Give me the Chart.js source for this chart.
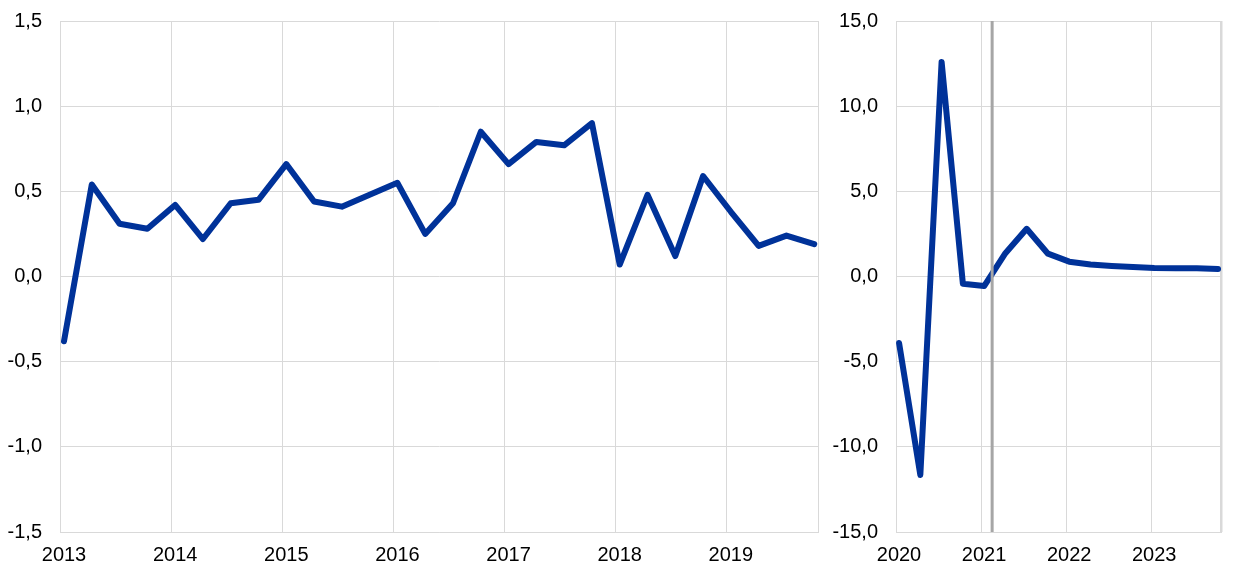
<!DOCTYPE html>
<html>
<head>
<meta charset="utf-8">
<script src="https://cdn.jsdelivr.net/npm/chart.js@4/dist/chart.umd.min.js"></script>
<style>
  html, body { margin: 0; padding: 0; background: #fff; }
  #wrap { position: relative; width: 1240px; height: 577px; }
  .box { position: absolute; top: 0; height: 577px; }
</style>
</head>
<body>
<div id="wrap">
  <div class="box" style="left:0;width:830px"><canvas id="leftChart"></canvas></div>
  <div class="box" style="left:830px;width:410px"><canvas id="rightChart"></canvas></div>
</div>
<script>
// quarterly data, left panel 2013-2019
const leftQuarters = [
  '2013Q1','2013Q2','2013Q3','2013Q4','2014Q1','2014Q2','2014Q3','2014Q4',
  '2015Q1','2015Q2','2015Q3','2015Q4','2016Q1','2016Q2','2016Q3','2016Q4',
  '2017Q1','2017Q2','2017Q3','2017Q4','2018Q1','2018Q2','2018Q3','2018Q4',
  '2019Q1','2019Q2','2019Q3','2019Q4'
];
const leftValues = [
  -0.38, 0.54, 0.31, 0.28, 0.42, 0.22, 0.43, 0.45,
  0.66, 0.44, 0.41, 0.48, 0.55, 0.25, 0.43, 0.85,
  0.66, 0.79, 0.77, 0.90, 0.07, 0.48, 0.12, 0.59,
  0.38, 0.18, 0.24, 0.19
];
const leftYearTicks = [2013, 2014, 2015, 2016, 2017, 2018, 2019];
const leftYTicks = [-1.5, -1.0, -0.5, 0.0, 0.5, 1.0, 1.5];

// right panel 2020-2023
const rightQuarters = [
  '2020Q1','2020Q2','2020Q3','2020Q4','2021Q1','2021Q2','2021Q3','2021Q4',
  '2022Q1','2022Q2','2022Q3','2022Q4','2023Q1','2023Q2','2023Q3','2023Q4'
];
const rightValues = [
  -3.9, -11.65, 12.6, -0.42, -0.56, 1.37, 2.8, 1.34,
  0.87, 0.70, 0.62, 0.56, 0.50, 0.49, 0.48, 0.44
];
const rightYearTicks = [2020, 2021, 2022, 2023];
const rightYTicks = [-15, -10, -5, 0, 5, 10, 15];
const projectionStart = 2021.13; // grey vertical line

const blue = '#003299';
const gridGrey = '#d9d9d9';
const fontSpec = { family: 'Liberation Sans, Arial, sans-serif', size: 20 };
const offset = 0.036; // points sit slightly right of year lines

function toX(q) {
  return parseInt(q.slice(0, 4)) + (parseInt(q.slice(5)) - 1) * 0.25 + offset;
}
function comma(v) { return v.toFixed(1).replace('.', ','); }

const vLine = {
  id: 'vLine',
  afterDatasetsDraw(chart, args, opts) {
    if (opts.value == null) return;
    const x = chart.scales.x.getPixelForValue(opts.value);
    const ctx = chart.ctx;
    ctx.save();
    ctx.strokeStyle = '#a6a6a6';
    ctx.lineWidth = 3;
    ctx.beginPath();
    ctx.moveTo(x, chart.chartArea.top);
    ctx.lineTo(x, chart.chartArea.bottom);
    ctx.stroke();
    ctx.restore();
  }
};

function makeChart(id, quarters, values, years, yTicks, yWidth, padRight, labelOff, lineAt) {
  const xMin = years[0];
  const xMax = years[years.length - 1] + 0.82;
  new Chart(document.getElementById(id), {
    type: 'line',
    data: {
      datasets: [{
        data: quarters.map((q, i) => ({ x: toX(q), y: values[i] })),
        borderColor: blue,
        borderWidth: 6,
        borderJoinStyle: 'round',
        borderCapStyle: 'round',
        pointRadius: 0,
        tension: 0
      }]
    },
    options: {
      responsive: true,
      maintainAspectRatio: false,
      animation: false,
      layout: { padding: { top: 21, right: padRight, bottom: 0, left: 0 } },
      plugins: { legend: { display: false }, tooltip: { enabled: false }, vLine: { value: lineAt } },
      scales: {
        x: {
          type: 'linear',
          min: xMin,
          max: xMax,
          afterBuildTicks: (s) => { s.ticks = years.map(v => ({ value: v })).concat([{ value: xMax }]); },
          afterFit: (s) => { s.height = 45; s.paddingLeft = 0; s.paddingRight = 0; },
          grid: {
            color: gridGrey,
            lineWidth: (c) => (c.tick && c.tick.value === xMax && lineAt != null) ? 2.5 : 1,
            drawTicks: false
          },
          border: { color: gridGrey },
          ticks: {
            font: fontSpec,
            color: '#000',
            padding: 11,
            labelOffset: labelOff,
            maxRotation: 0,
            autoSkip: false,
            callback: (v) => Number.isInteger(v) ? String(v) : ''
          }
        },
        y: {
          min: yTicks[0],
          max: yTicks[yTicks.length - 1],
          afterBuildTicks: (s) => { s.ticks = yTicks.map(v => ({ value: v })); },
          afterFit: (s) => { s.width = yWidth; s.paddingTop = 0; s.paddingBottom = 0; },
          grid: { color: gridGrey, drawTicks: false },
          border: { color: gridGrey },
          ticks: {
            font: fontSpec,
            color: '#000',
            padding: 18,
            callback: (v) => comma(v)
          }
        }
      }
    },
    plugins: [vLine]
  });
}

makeChart('leftChart', leftQuarters, leftValues, leftYearTicks, leftYTicks, 60, 12, 4, null);
makeChart('rightChart', rightQuarters, rightValues, rightYearTicks, rightYTicks, 66, 19, 3, projectionStart);
</script>
</body>
</html>
